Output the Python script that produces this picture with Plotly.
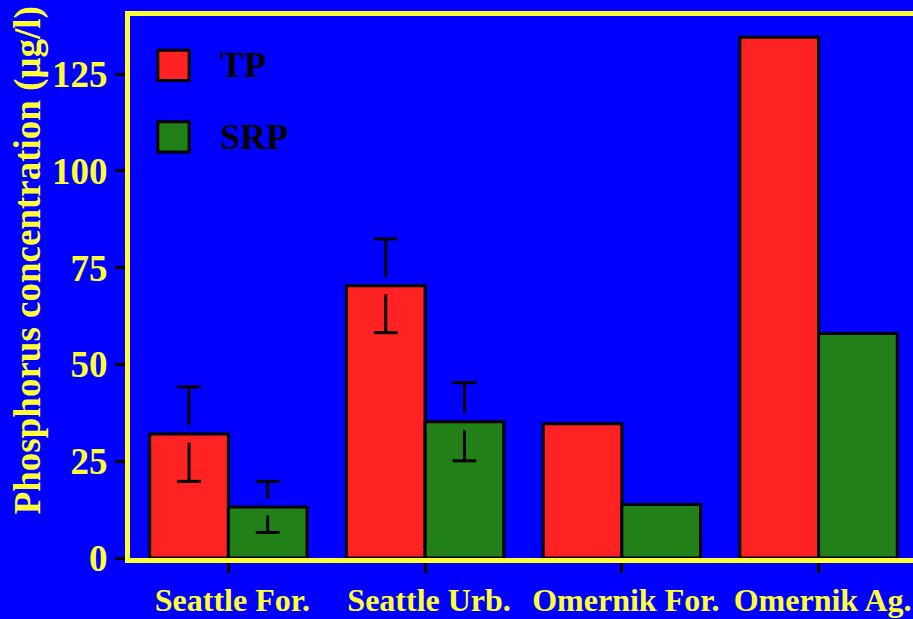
import numpy as np
import plotly.graph_objects as go

categories = ["Seattle For.", "Seattle Urb.", "Omernik For.", "Omernik Ag."]
tp_values = [32.0, 70.3, 34.7, 134.5]
srp_values = [13.2, 35.2, 13.8, 58.0]
tp_errors = [12.2, 12.1, None, None]
srp_errors = [6.6, 10.1, None, None]
y_ticks = [0, 25, 50, 75, 100, 125]

BLUE = "#0000FF"
YELLOW = "#FFFF33"
RED = "#FF2222"
GREEN = "#228018"
FONT = "Liberation Serif, Times New Roman, serif"

xs = np.arange(len(categories))
bw = 0.4
gap = 2.2  # gap of the error bar line around the bar top (data units)

fig = go.Figure()


def add_series(name, values, errors, color, offset):
    xpos = xs + offset
    fig.add_trace(go.Bar(
        x=xpos, y=values, width=bw, name=name,
        marker=dict(color=color, line=dict(color="black", width=3)),
        showlegend=False,
    ))
    lx, ly, cx, cy = [], [], [], []
    for x, v, e in zip(xpos, values, errors):
        if e is None:
            continue
        lx += [x, x, None, x, x, None]
        ly += [v + gap, v + e, None, v - gap, v - e, None]
        cx += [x, x]
        cy += [v + e, v - e]
    fig.add_trace(go.Scatter(x=lx, y=ly, mode="lines",
                             line=dict(color="black", width=3),
                             showlegend=False, hoverinfo="skip"))
    fig.add_trace(go.Scatter(x=cx, y=cy, mode="markers",
                             marker=dict(symbol="line-ew", size=17,
                                         line=dict(color="black", width=3)),
                             showlegend=False, hoverinfo="skip"))


add_series("TP", tp_values, tp_errors, RED, -bw / 2)
add_series("SRP", srp_values, srp_errors, GREEN, bw / 2)

# legend drawn as boxes + text (large symbols)
legend_items = [("TP", RED, 0.909), ("SRP", GREEN, 0.777)]
for label, color, yc in legend_items:
    fig.add_shape(type="rect", xref="paper", yref="paper",
                  x0=0.0355, x1=0.0755, y0=yc - 0.028, y1=yc + 0.028,
                  fillcolor=color, line=dict(color="black", width=3))
    fig.add_annotation(xref="paper", yref="paper", x=0.113, y=yc,
                       xanchor="left", yanchor="middle", showarrow=False,
                       text=f"<b>{label}</b>",
                       font=dict(family=FONT, size=36, color="black"))

fig.add_annotation(xref="paper", yref="paper", x=-0.131, y=0.55,
                   xanchor="center", yanchor="middle", showarrow=False,
                   textangle=-90,
                   text="<b>Phosphorus concentration (μg/l)</b>",
                   font=dict(family=FONT, size=37, color=YELLOW))

fig.update_layout(
    width=913, height=619,
    margin=dict(l=130, r=0, t=16, b=61),
    paper_bgcolor=BLUE, plot_bgcolor=BLUE,
    barmode="overlay",
    font=dict(family=FONT, color=YELLOW),
)
fig.update_xaxes(
    range=[-0.5, 3.48], tickvals=xs,
    ticktext=[f"<b>{c}</b>" for c in categories],
    tickfont=dict(family=FONT, size=32, color=YELLOW),
    ticklabelshift=4,
    ticks="outside", ticklen=10, tickwidth=3, tickcolor="black",
    showline=True, linecolor=YELLOW, linewidth=5, mirror=True,
    showgrid=False, zeroline=False,
)
fig.update_yaxes(
    range=[0, 140], tickvals=y_ticks,
    ticktext=[f"<b>{t}</b>" for t in y_ticks],
    tickfont=dict(family=FONT, size=37, color=YELLOW),
    ticks="outside", ticklen=10, tickwidth=3, tickcolor="black",
    showline=True, linecolor=YELLOW, linewidth=5,
    showgrid=False, zeroline=False,
)

fig.write_html(
    "out.html",
    config={"displayModeBar": False},
    post_script="document.body.style.margin='0';"
                "document.body.style.background='#0000FF';",
)
